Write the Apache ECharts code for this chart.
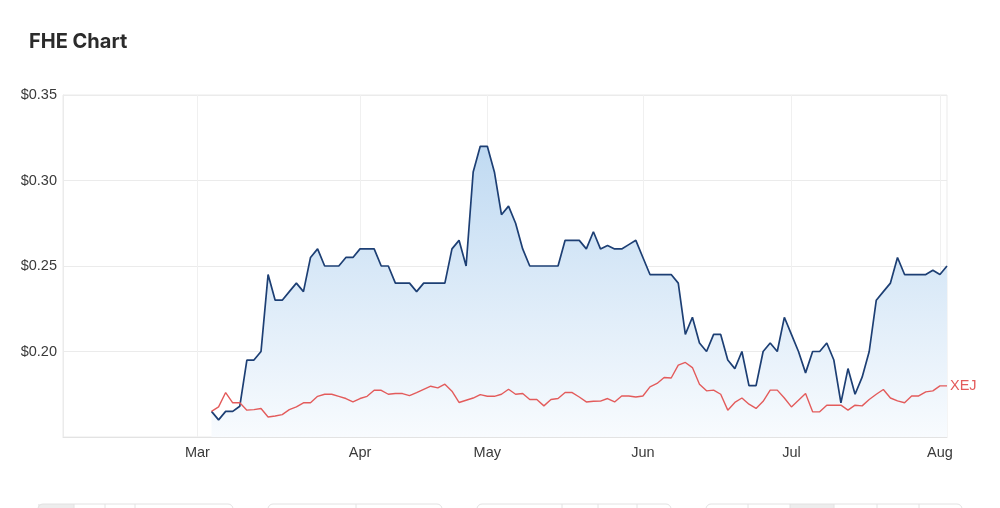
<!DOCTYPE html>
<html>
<head>
<meta charset="utf-8">
<title>FHE Chart</title>
<script src="https://cdn.jsdelivr.net/npm/echarts@6/dist/echarts.min.js"></script>
<style>
  html, body { margin: 0; padding: 0; background: #fff; }
  #chart { width: 1000px; height: 508px; }
</style>
</head>
<body>
<div id="chart"></div>
<script>
// trading days (ASX, 2022) shown on the axis
const febDays = [2, 3, 4, 7, 8, 9, 10, 11, 14, 15, 16, 17, 18, 21, 22, 23, 24, 25, 28]
const marDays = [1, 2, 3, 4, 7, 8, 9, 10, 11, 14, 15, 16, 17, 18, 21, 22, 23, 24, 25, 28, 29, 30, 31]
const aprDays = [1, 4, 5, 6, 7, 8, 11, 12, 13, 14, 19, 20, 21, 22, 26, 27, 28, 29]
const mayDays = [2, 3, 4, 5, 6, 9, 10, 11, 12, 13, 16, 17, 18, 19, 20, 23, 24, 25, 26, 27, 30, 31]
const junDays = [1, 2, 3, 6, 7, 8, 9, 10, 14, 15, 16, 17, 20, 21, 22, 23, 24, 27, 28, 29, 30]
const julDays = [1, 4, 5, 6, 7, 8, 11, 12, 13, 14, 15, 18, 19, 20, 21, 22, 25, 26, 27, 28, 29]
const augDays = [1, 2]
const monthNames = ['Jan', 'Feb', 'Mar', 'Apr', 'May', 'Jun', 'Jul', 'Aug', 'Sep', 'Oct', 'Nov', 'Dec']

// first day with prices
const firstDate = '2022-03-03'

// FHE close price, from 3 Mar
const fhePrice = [
  0.165, 0.16, 0.165, 0.165, 0.168, 0.195, 0.195, 0.20, 0.245, 0.23, 0.23, 0.235, 0.24, 0.235, 0.255, 0.26, 0.25, 0.25, 0.25, 0.255, 0.255, // Mar
  0.26, 0.26, 0.26, 0.25, 0.25, 0.24, 0.24, 0.24, 0.235, 0.24, 0.24, 0.24, 0.24, 0.26, 0.265, 0.25, 0.305, 0.32, // Apr
  0.32, 0.305, 0.28, 0.285, 0.275, 0.26, 0.25, 0.25, 0.25, 0.25, 0.25, 0.265, 0.265, 0.265, 0.26, 0.27, 0.26, 0.262, 0.26, 0.26, 0.2625, 0.265, // May
  0.255, 0.245, 0.245, 0.245, 0.245, 0.24, 0.21, 0.22, 0.205, 0.20, 0.21, 0.21, 0.195, 0.19, 0.20, 0.18, 0.18, 0.20, 0.205, 0.20, 0.22, // Jun
  0.21, 0.20, 0.1875, 0.20, 0.20, 0.205, 0.195, 0.17, 0.19, 0.175, 0.185, 0.20, 0.23, 0.235, 0.24, 0.255, 0.245, 0.245, 0.245, 0.245, 0.2475, // Jul
  0.245, 0.25 // Aug
]

// XEJ index rebased to FHE's first price
const xejRebased = [
  0.165, 0.1676, 0.176, 0.17, 0.17, 0.1657, 0.166, 0.1667, 0.1617, 0.1623, 0.1631, 0.166, 0.1676, 0.17, 0.17, 0.1738, 0.175, 0.175, 0.1738, 0.1725, 0.1705, // Mar
  0.1725, 0.1738, 0.1773, 0.1773, 0.175, 0.1754, 0.1754, 0.1742, 0.176, 0.1779, 0.1797, 0.1787, 0.1809, 0.1768, 0.1702, 0.1715, 0.1728, 0.1748, // Apr
  0.1738, 0.1738, 0.175, 0.1779, 0.175, 0.1754, 0.1719, 0.1719, 0.1682, 0.1719, 0.1725, 0.176, 0.176, 0.1734, 0.1705, 0.1709, 0.171, 0.1725, 0.1705, 0.174, 0.174, 0.1734, // May
  0.174, 0.1793, 0.1813, 0.1848, 0.1845, 0.192, 0.1936, 0.1906, 0.1809, 0.177, 0.1774, 0.175, 0.1657, 0.1702, 0.1728, 0.1692, 0.1667, 0.1709, 0.1774, 0.1774, 0.1728, // Jun
  0.1676, 0.1715, 0.1754, 0.1647, 0.1647, 0.1686, 0.1686, 0.1686, 0.1657, 0.1686, 0.1682, 0.1719, 0.175, 0.1778, 0.1728, 0.1711, 0.17, 0.174, 0.174, 0.1764, 0.177, // Jul
  0.1799, 0.1799 // Aug
]

// y axis ticks
const yMin = 0.15
const yMax = 0.35
const yStep = 0.05

const pad2 = n => String(n).padStart(2, '0')
const monthDays = [['02', febDays], ['03', marDays], ['04', aprDays], ['05', mayDays], ['06', junDays], ['07', julDays], ['08', augDays]]
const categories = monthDays.flatMap(([m, days]) => days.map(d => '2022-' + m + '-' + pad2(d)))

const lead = categories.indexOf(firstDate)
const fheData = new Array(lead).fill(null).concat(fhePrice)
const xejData = new Array(lead).fill(null).concat(xejRebased)

// show a label / grid line on the first trading day of each month
const isMonthStart = (index, value) => index > 0 && value.slice(5, 7) !== categories[index - 1].slice(5, 7)

const LINE_GREY = '#ebebeb'
const LABEL_FONT = '"Liberation Sans", Arial, sans-serif'

// range buttons at the foot (cut off by the frame)
function buttonGroup(x0, x1, dividers, filled) {
  const els = []
  if (filled) {
    els.push({ type: 'rect', shape: { x: filled[0], y: 504, width: filled[1] - filled[0], height: 30 }, style: { fill: '#ededed' } })
  }
  els.push({ type: 'rect', shape: { x: x0, y: 504, width: x1 - x0, height: 30, r: 5 }, style: { fill: 'none', stroke: '#e2e2e2', lineWidth: 1 } })
  dividers.forEach(dx => {
    els.push({ type: 'line', shape: { x1: dx, y1: 504, x2: dx, y2: 534 }, style: { stroke: '#e2e2e2', lineWidth: 1 } })
  })
  return els
}

const chartDom = document.getElementById('chart')
const chart = echarts.init(chartDom, null, { renderer: 'canvas' })

let option = {}
option = {
  animation: false,
  backgroundColor: '#ffffff',
  title: {
    text: 'FHE Chart',
    left: 24,
    top: 27,
    textStyle: {
      fontFamily: 'Inter, sans-serif',
      fontSize: 20,
      fontWeight: 'bold',
      color: '#2b2b2b'
    }
  },
  grid: {
    left: 63,
    right: 53,
    top: 95,
    bottom: 71,
    show: true,
    borderColor: LINE_GREY,
    borderWidth: 1
  },
  xAxis: {
    type: 'category',
    data: categories,
    boundaryGap: false,
    axisTick: { show: false },
    axisLine: { lineStyle: { color: '#e3e3e3' } },
    axisLabel: {
      interval: isMonthStart,
      margin: 8,
      color: '#3a3a3a',
      fontSize: 14.5,
      fontFamily: LABEL_FONT,
      formatter: v => monthNames[+v.slice(5, 7) - 1]
    },
    splitLine: {
      show: true,
      interval: isMonthStart,
      lineStyle: { color: '#f0f0f0' }
    }
  },
  yAxis: {
    type: 'value',
    min: yMin,
    max: yMax,
    interval: yStep,
    axisLine: { show: true, lineStyle: { color: LINE_GREY } },
    axisTick: { show: false },
    axisLabel: {
      showMinLabel: false,
      margin: 6,
      color: '#3a3a3a',
      fontSize: 14.5,
      fontFamily: LABEL_FONT,
      formatter: v => '$' + v.toFixed(2)
    },
    splitLine: { lineStyle: { color: LINE_GREY } }
  },
  series: [
    {
      name: 'FHE',
      type: 'line',
      data: fheData,
      showSymbol: false,
      z: 2,
      lineStyle: { color: '#1d3f74', width: 1.7 },
      itemStyle: { color: '#1d3f74' },
      areaStyle: {
        opacity: 1,
        color: new echarts.graphic.LinearGradient(0, 0, 0, 1, [
          { offset: 0, color: '#c0daf2' },
          { offset: 1, color: '#f8fbfe' }
        ])
      }
    },
    {
      name: 'XEJ',
      type: 'line',
      data: xejData,
      showSymbol: false,
      z: 3,
      lineStyle: { color: '#e35b5b', width: 1.4 },
      itemStyle: { color: '#e35b5b' },
      endLabel: {
        show: true,
        formatter: 'XEJ',
        distance: 3,
        color: '#e35b5b',
        fontSize: 14.5,
        fontFamily: LABEL_FONT
      }
    }
  ],
  graphic: [].concat(
    buttonGroup(38, 233, [74, 105, 135], [38, 74]),
    buttonGroup(268, 442, [356]),
    buttonGroup(477, 671, [562, 598, 637]),
    buttonGroup(706, 962, [748, 790, 834, 877, 919], [790, 834])
  )
}
chart.setOption(option, true)
</script>
</body>
</html>
